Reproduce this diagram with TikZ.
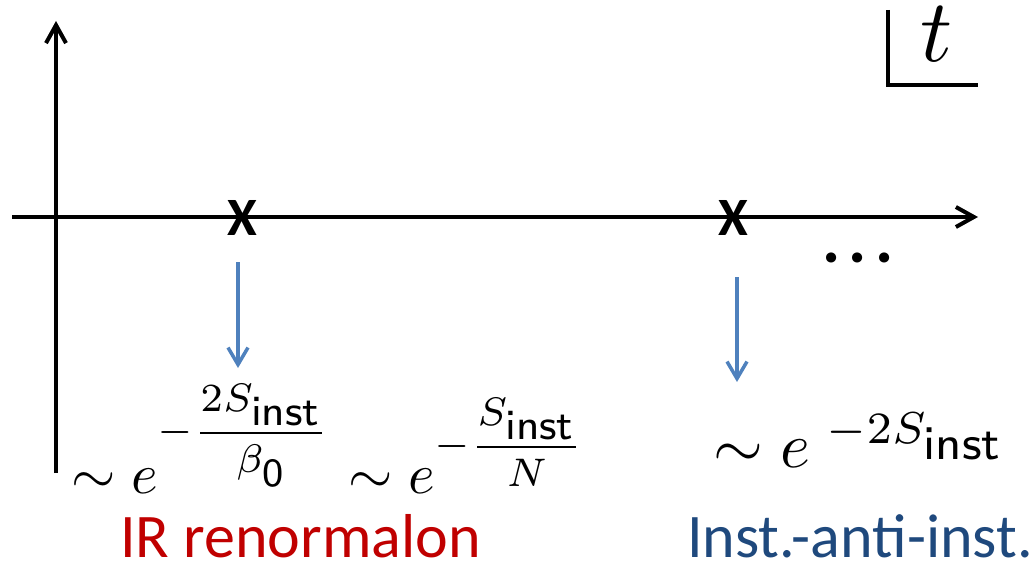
\documentclass[tikz,border=0pt]{standalone}
\usepackage{amsmath}
\usepackage[no-math]{fontspec}
\setmainfont{Carlito}
\usetikzlibrary{arrows.meta}
\definecolor{irred}{HTML}{C00000}
\definecolor{instblue}{HTML}{1F497D}
\definecolor{flowblue}{HTML}{4F81BD}
\newcommand{\expsize}{\fontsize{7}{8}\selectfont}
\newcommand{\inst}{\mbox{\fontsize{7.5}{8}\selectfont\sffamily inst}}
\newcommand{\sfzero}{\mbox{\fontsize{7}{8}\selectfont\sffamily 0}}

\begin{document}
\begin{tikzpicture}[x=1pt, y=-1pt,
    axis/.style={line width=4pt, -{Straight Barb[length=18pt, width=20pt]}},
    flow/.style={flowblue, line width=3.5pt, -{Straight Barb[length=17pt, width=20pt]}},
    polemark/.style={inner sep=0pt, font=\fontsize{54}{58}\selectfont\bfseries},
    ellip/.style={inner sep=0pt, font=\fontsize{68}{72}\selectfont\bfseries},
    formula/.style={inner sep=0pt, anchor=base west, transform shape},
    caption/.style={inner sep=0pt, anchor=base west, font=\fontsize{62}{70}\selectfont}]
  \useasboundingbox (0,0) rectangle (1033,564);
  % axes
  \coordinate (Vb) at (56,473);
  \coordinate (Vt) at (56,21);
  \coordinate (Hl) at (12,217);
  \coordinate (Hr) at (978,217);
  \draw[axis] (Vb) -- (Vt);
  \draw[axis] (Hl) -- (Hr);
  % t plane corner
  \coordinate (Ct) at (888,10);
  \coordinate (Cc) at (888,85);
  \coordinate (Cr) at (978,85);
  \draw[line width=4pt] (Ct) -- (Cc) -- (Cr);
  \node[inner sep=0pt, anchor=base, scale=8.9, transform shape] (T) at (937,62) {$t$};
  % singularities
  \node[polemark] (P1) at (242,218) {X};
  \node[polemark] (P2) at (733,218) {X};
  \node[ellip] (D) at (858,258) {.\hspace{8pt}.\hspace{8pt}.};
  % arrows down to the estimates
  \coordinate (A1s) at (238,262);
  \coordinate (A1e) at (238,368);
  \coordinate (A2s) at (737,277);
  \coordinate (A2e) at (737,382);
  \draw[flow] (A1s) -- (A1e);
  \draw[flow] (A2s) -- (A2e);
  % estimates
  \node[formula, scale=5.7] (F1) at (70,493)
    {$\sim e^{\mbox{\expsize$-\dfrac{2S_{\inst}}{\beta_{\sfzero}}$}}$};
  \node[formula, scale=5.7] (F2) at (347,493)
    {$\sim e^{\mbox{\expsize$-\dfrac{S_{\inst}}{N}$}}$};
  \node[formula, scale=6.4] (F3) at (712,467)
    {$\sim e^{\hspace{2.5pt}\mbox{\expsize$-2S_{\inst}$}}$};
  % captions
  \node[caption, irred] (IR) at (120,557) {IR renormalon};
  \node[caption, instblue] (II) at (687,557) {Inst.-anti-inst.};
\end{tikzpicture}
\end{document}
